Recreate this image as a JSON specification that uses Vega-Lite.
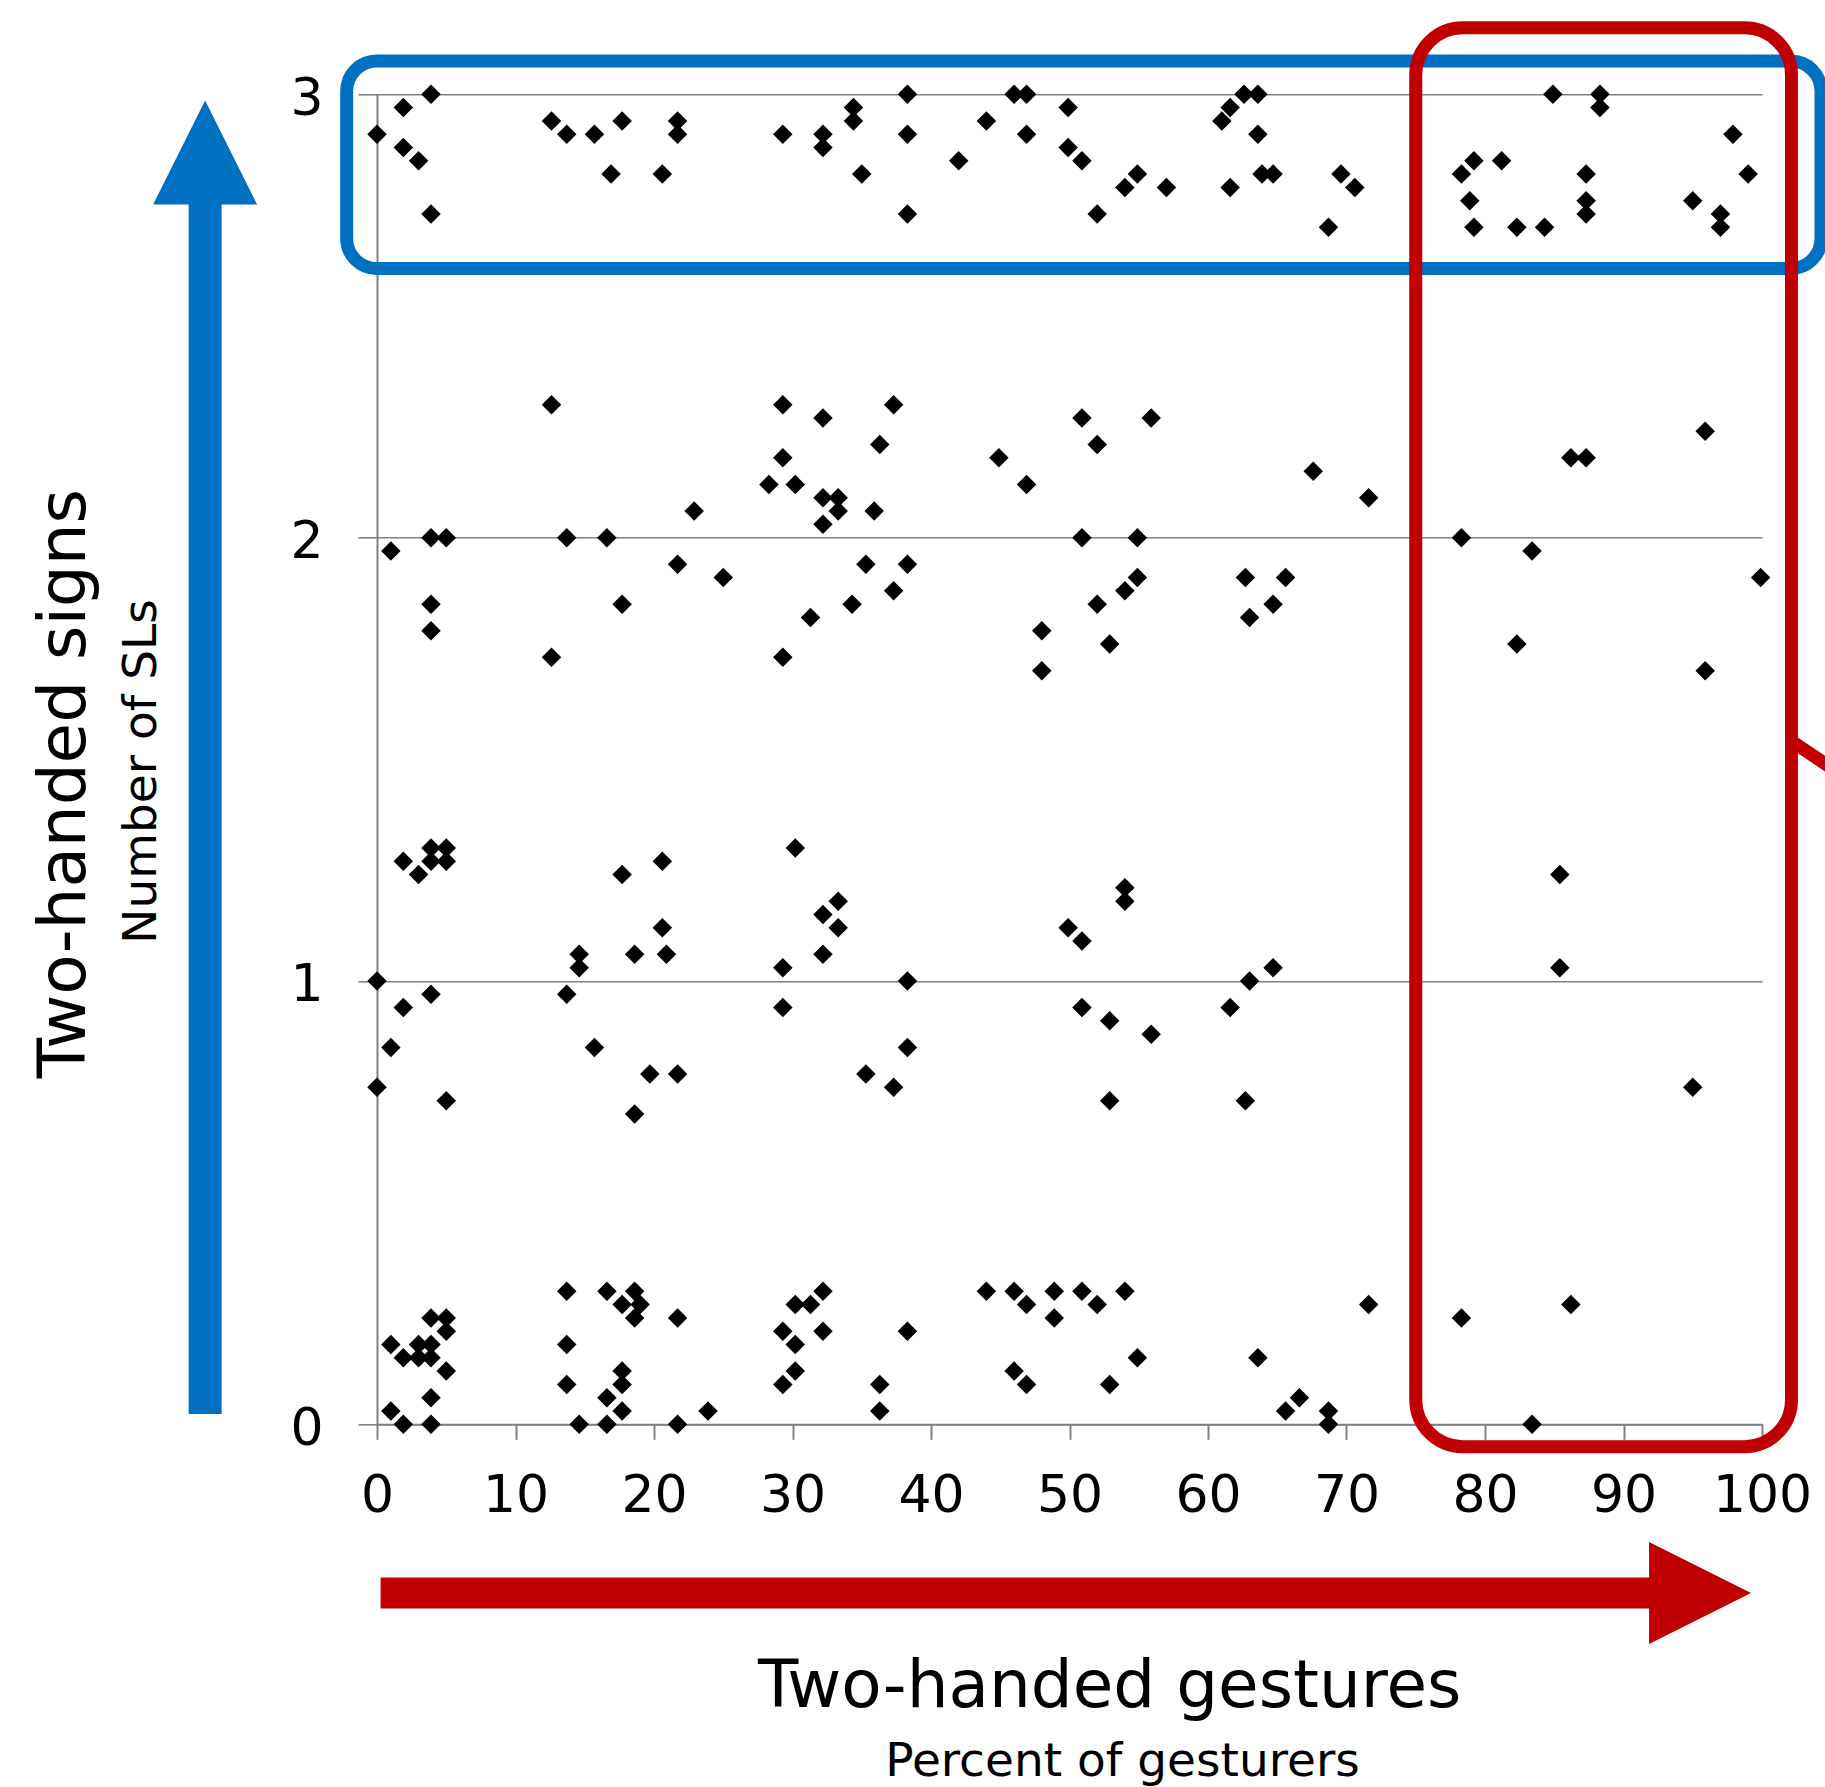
{
  "$schema": "https://vega.github.io/schema/vega-lite/v6.json",
  "width": 1385,
  "height": 1330,
  "autosize": {"type": "none"},
  "padding": {"left": 377, "top": 94.3, "right": 63, "bottom": 362.7},
  "background": "white",
  "config": {
    "view": {"stroke": null},
    "font": "DejaVu Sans"
  },
  "datasets": {
    "pts": [
      {"pct": 3.9, "n": 3.0}, {"pct": 1.9, "n": 2.97}, {"pct": 0, "n": 2.91}, {"pct": 1.9, "n": 2.88}, {"pct": 3.0, "n": 2.85}, {"pct": 3.9, "n": 2.73},
      {"pct": 12.6, "n": 2.94}, {"pct": 13.7, "n": 2.91}, {"pct": 15.7, "n": 2.91}, {"pct": 17.7, "n": 2.94}, {"pct": 21.7, "n": 2.94}, {"pct": 21.7, "n": 2.91}, {"pct": 16.9, "n": 2.82}, {"pct": 20.6, "n": 2.82},
      {"pct": 38.3, "n": 3.0}, {"pct": 46.0, "n": 3.0}, {"pct": 46.9, "n": 3.0}, {"pct": 34.4, "n": 2.97}, {"pct": 34.4, "n": 2.94}, {"pct": 29.3, "n": 2.91}, {"pct": 32.2, "n": 2.91}, {"pct": 32.2, "n": 2.88}, {"pct": 38.3, "n": 2.91}, {"pct": 44.0, "n": 2.94}, {"pct": 46.9, "n": 2.91}, {"pct": 49.9, "n": 2.97}, {"pct": 49.9, "n": 2.88}, {"pct": 35.0, "n": 2.82}, {"pct": 42.0, "n": 2.85}, {"pct": 38.3, "n": 2.73},
      {"pct": 50.9, "n": 2.85}, {"pct": 54.9, "n": 2.82}, {"pct": 54.0, "n": 2.79}, {"pct": 57.0, "n": 2.79}, {"pct": 52.0, "n": 2.73}, {"pct": 62.6, "n": 3.0}, {"pct": 63.6, "n": 3.0}, {"pct": 61.6, "n": 2.97}, {"pct": 61.0, "n": 2.94}, {"pct": 63.6, "n": 2.91}, {"pct": 63.9, "n": 2.82}, {"pct": 64.7, "n": 2.82}, {"pct": 61.6, "n": 2.79}, {"pct": 69.6, "n": 2.82}, {"pct": 70.6, "n": 2.79}, {"pct": 68.7, "n": 2.70},
      {"pct": 84.9, "n": 3.0}, {"pct": 88.3, "n": 3.0}, {"pct": 88.3, "n": 2.97}, {"pct": 97.9, "n": 2.91}, {"pct": 79.2, "n": 2.85}, {"pct": 81.2, "n": 2.85}, {"pct": 78.3, "n": 2.82}, {"pct": 87.3, "n": 2.82}, {"pct": 99.0, "n": 2.82}, {"pct": 78.9, "n": 2.76}, {"pct": 87.3, "n": 2.76}, {"pct": 87.3, "n": 2.73}, {"pct": 95.0, "n": 2.76}, {"pct": 97.0, "n": 2.73}, {"pct": 97.0, "n": 2.70}, {"pct": 79.2, "n": 2.70}, {"pct": 82.3, "n": 2.70}, {"pct": 84.3, "n": 2.70},
      {"pct": 12.6, "n": 2.30}, {"pct": 22.9, "n": 2.06},
      {"pct": 29.3, "n": 2.30}, {"pct": 32.2, "n": 2.27}, {"pct": 37.3, "n": 2.30}, {"pct": 36.3, "n": 2.21}, {"pct": 29.3, "n": 2.18}, {"pct": 44.9, "n": 2.18}, {"pct": 28.3, "n": 2.12}, {"pct": 30.2, "n": 2.12}, {"pct": 46.9, "n": 2.12}, {"pct": 32.2, "n": 2.09}, {"pct": 33.3, "n": 2.09}, {"pct": 33.3, "n": 2.06}, {"pct": 35.9, "n": 2.06}, {"pct": 32.2, "n": 2.03},
      {"pct": 50.9, "n": 2.27}, {"pct": 55.9, "n": 2.27}, {"pct": 52.0, "n": 2.21}, {"pct": 67.6, "n": 2.15}, {"pct": 71.6, "n": 2.09},
      {"pct": 95.9, "n": 2.24}, {"pct": 86.2, "n": 2.18}, {"pct": 87.3, "n": 2.18},
      {"pct": 1.0, "n": 1.97}, {"pct": 3.9, "n": 2.0}, {"pct": 5.0, "n": 2.0}, {"pct": 13.7, "n": 2.0}, {"pct": 16.6, "n": 2.0}, {"pct": 21.7, "n": 1.94}, {"pct": 3.9, "n": 1.85}, {"pct": 17.7, "n": 1.85}, {"pct": 3.9, "n": 1.79}, {"pct": 12.6, "n": 1.73},
      {"pct": 25.0, "n": 1.91}, {"pct": 35.3, "n": 1.94}, {"pct": 38.3, "n": 1.94}, {"pct": 37.3, "n": 1.88}, {"pct": 34.3, "n": 1.85}, {"pct": 31.3, "n": 1.82}, {"pct": 29.3, "n": 1.73}, {"pct": 48.0, "n": 1.79}, {"pct": 48.0, "n": 1.70},
      {"pct": 50.9, "n": 2.0}, {"pct": 54.9, "n": 2.0}, {"pct": 54.9, "n": 1.91}, {"pct": 54.0, "n": 1.88}, {"pct": 52.0, "n": 1.85}, {"pct": 52.9, "n": 1.76}, {"pct": 62.7, "n": 1.91}, {"pct": 65.6, "n": 1.91}, {"pct": 64.7, "n": 1.85}, {"pct": 63.0, "n": 1.82},
      {"pct": 78.3, "n": 2.0}, {"pct": 83.4, "n": 1.97}, {"pct": 99.9, "n": 1.91}, {"pct": 82.3, "n": 1.76}, {"pct": 95.9, "n": 1.70},
      {"pct": 3.9, "n": 1.30}, {"pct": 5.0, "n": 1.30}, {"pct": 3.9, "n": 1.27}, {"pct": 5.0, "n": 1.27}, {"pct": 1.9, "n": 1.27}, {"pct": 3.0, "n": 1.24}, {"pct": 17.7, "n": 1.24}, {"pct": 20.6, "n": 1.27}, {"pct": 20.6, "n": 1.12}, {"pct": 14.6, "n": 1.06}, {"pct": 14.6, "n": 1.03}, {"pct": 18.6, "n": 1.06}, {"pct": 20.9, "n": 1.06}, {"pct": 0, "n": 1.0},
      {"pct": 30.2, "n": 1.30}, {"pct": 33.3, "n": 1.18}, {"pct": 32.2, "n": 1.15}, {"pct": 33.3, "n": 1.12}, {"pct": 32.2, "n": 1.06}, {"pct": 29.3, "n": 1.03}, {"pct": 38.3, "n": 1.0}, {"pct": 49.9, "n": 1.12},
      {"pct": 54.0, "n": 1.21}, {"pct": 54.0, "n": 1.18}, {"pct": 50.9, "n": 1.09}, {"pct": 63.0, "n": 1.0}, {"pct": 64.7, "n": 1.03},
      {"pct": 85.4, "n": 1.24}, {"pct": 85.4, "n": 1.03},
      {"pct": 3.9, "n": 0.97}, {"pct": 1.9, "n": 0.94}, {"pct": 13.7, "n": 0.97}, {"pct": 1.0, "n": 0.85}, {"pct": 15.7, "n": 0.85}, {"pct": 0, "n": 0.76}, {"pct": 5.0, "n": 0.73}, {"pct": 19.7, "n": 0.79}, {"pct": 21.7, "n": 0.79}, {"pct": 18.6, "n": 0.70},
      {"pct": 29.3, "n": 0.94}, {"pct": 38.3, "n": 0.85}, {"pct": 35.3, "n": 0.79}, {"pct": 37.3, "n": 0.76},
      {"pct": 50.9, "n": 0.94}, {"pct": 52.9, "n": 0.91}, {"pct": 55.9, "n": 0.88}, {"pct": 61.6, "n": 0.94}, {"pct": 52.9, "n": 0.73}, {"pct": 62.7, "n": 0.73},
      {"pct": 95.0, "n": 0.76},
      {"pct": 13.7, "n": 0.30}, {"pct": 16.6, "n": 0.30}, {"pct": 18.6, "n": 0.30}, {"pct": 17.7, "n": 0.27}, {"pct": 19.0, "n": 0.27}, {"pct": 18.6, "n": 0.24}, {"pct": 21.7, "n": 0.24}, {"pct": 3.9, "n": 0.24}, {"pct": 5.0, "n": 0.24}, {"pct": 5.0, "n": 0.21}, {"pct": 1.0, "n": 0.18}, {"pct": 3.0, "n": 0.18}, {"pct": 3.9, "n": 0.18}, {"pct": 1.9, "n": 0.15}, {"pct": 3.0, "n": 0.15}, {"pct": 3.9, "n": 0.15}, {"pct": 5.0, "n": 0.12}, {"pct": 13.7, "n": 0.18}, {"pct": 17.7, "n": 0.12}, {"pct": 17.7, "n": 0.09}, {"pct": 13.7, "n": 0.09}, {"pct": 16.6, "n": 0.06}, {"pct": 3.9, "n": 0.06}, {"pct": 1.0, "n": 0.03}, {"pct": 17.7, "n": 0.03}, {"pct": 1.9, "n": 0.0}, {"pct": 3.9, "n": 0.0}, {"pct": 14.6, "n": 0.0}, {"pct": 16.6, "n": 0.0}, {"pct": 21.7, "n": 0.0}, {"pct": 23.9, "n": 0.03},
      {"pct": 32.2, "n": 0.30}, {"pct": 30.2, "n": 0.27}, {"pct": 31.3, "n": 0.27}, {"pct": 29.3, "n": 0.21}, {"pct": 32.2, "n": 0.21}, {"pct": 30.2, "n": 0.18}, {"pct": 30.2, "n": 0.12}, {"pct": 29.3, "n": 0.09}, {"pct": 38.3, "n": 0.21}, {"pct": 36.3, "n": 0.09}, {"pct": 36.3, "n": 0.03},
      {"pct": 44.0, "n": 0.30}, {"pct": 46.0, "n": 0.30}, {"pct": 46.9, "n": 0.27}, {"pct": 48.9, "n": 0.30}, {"pct": 48.9, "n": 0.24}, {"pct": 46.0, "n": 0.12}, {"pct": 46.9, "n": 0.09},
      {"pct": 50.9, "n": 0.30}, {"pct": 52.0, "n": 0.27}, {"pct": 54.0, "n": 0.30}, {"pct": 71.6, "n": 0.27}, {"pct": 54.9, "n": 0.15}, {"pct": 52.9, "n": 0.09}, {"pct": 63.6, "n": 0.15}, {"pct": 66.6, "n": 0.06}, {"pct": 65.6, "n": 0.03}, {"pct": 68.7, "n": 0.03}, {"pct": 68.7, "n": 0.0},
      {"pct": 78.3, "n": 0.24}, {"pct": 86.2, "n": 0.27}, {"pct": 83.4, "n": 0.0}
    ]
  },
  "encoding": {
    "x": {
      "type": "quantitative",
      "scale": {"domain": [0, 100], "nice": false, "zero": false},
      "axis": {
        "values": [0, 10, 20, 30, 40, 50, 60, 70, 80, 90, 100],
        "grid": false,
        "domainColor": "#808080", "domainWidth": 2,
        "tickColor": "#808080", "tickWidth": 2, "tickSize": 15,
        "labelFont": "DejaVu Sans", "labelFontSize": 52, "labelColor": "#000000", "labelPadding": 31,
        "labelFlush": false, "labelOverlap": false, "labelBound": false,
        "title": "Percent of gesturers",
        "titleFont": "DejaVu Sans", "titleFontSize": 47, "titleFontWeight": "normal", "titleColor": "#000000",
        "titleX": 745, "titleY": 350.7, "titleAlign": "center", "titleBaseline": "alphabetic"
      }
    },
    "y": {
      "type": "quantitative",
      "scale": {"domain": [0, 3], "nice": false, "zero": false},
      "axis": {
        "values": [0, 1, 2, 3],
        "grid": true, "gridColor": "#808080", "gridWidth": 1.6,
        "domainColor": "#808080", "domainWidth": 2,
        "tickColor": "#808080", "tickWidth": 1.6, "tickSize": 19,
        "labelFont": "DejaVu Sans", "labelFontSize": 52, "labelColor": "#000000", "labelPadding": 35, "labelOffset": 4,
        "labelFlush": false, "labelOverlap": false, "labelBound": false,
        "title": "Number of SLs",
        "titleFont": "DejaVu Sans", "titleFontSize": 47, "titleFontWeight": "normal", "titleColor": "#000000",
        "titleAngle": 270, "titleX": -222, "titleY": 676.7, "titleAlign": "center", "titleBaseline": "alphabetic"
      }
    }
  },
  "layer": [
    {
      "data": {"name": "pts"},
      "mark": {"type": "point", "shape": "diamond", "filled": true, "color": "#000000", "size": 380, "opacity": 1, "strokeWidth": 0},
      "encoding": {
        "x": {"field": "pct", "type": "quantitative"},
        "y": {"field": "n", "type": "quantitative"}
      }
    },
    {
      "data": {"values": [{}]},
      "mark": {"type": "rect", "filled": false, "stroke": "#0070C0", "strokeWidth": 13, "cornerRadius": 30, "clip": false},
      "encoding": {
        "x": {"datum": -2.19}, "x2": {"datum": 104.26},
        "y": {"datum": 3.075}, "y2": {"datum": 2.607}
      }
    },
    {
      "data": {"values": [{}]},
      "mark": {"type": "rect", "filled": false, "stroke": "#C00000", "strokeWidth": 13, "cornerRadius": 47, "clip": false},
      "encoding": {
        "x": {"datum": 75.0}, "x2": {"datum": 102.13},
        "y": {"datum": 3.15}, "y2": {"datum": -0.0505}
      }
    },
    {
      "data": {"values": [{}]},
      "mark": {"type": "rule", "color": "#C00000", "strokeWidth": 13, "clip": false},
      "encoding": {
        "x": {"datum": 102.13}, "x2": {"datum": 109.9},
        "y": {"datum": 1.541}, "y2": {"datum": 1.378}
      }
    },
    {
      "data": {"values": [{}]},
      "mark": {"type": "rule", "color": "#0070C0", "strokeWidth": 33, "strokeCap": "butt", "clip": false},
      "encoding": {
        "x": {"datum": -12.41},
        "y": {"datum": 0.023}, "y2": {"datum": 2.76}
      }
    },
    {
      "data": {"values": [{}]},
      "mark": {"type": "point", "shape": "M0,-1L1,1L-1,1Z", "size": 10816, "filled": true, "color": "#0070C0", "opacity": 1, "strokeWidth": 0, "clip": false},
      "encoding": {
        "x": {"datum": -12.41},
        "y": {"datum": 2.869}
      }
    },
    {
      "data": {"values": [{}]},
      "mark": {"type": "rule", "color": "#C00000", "strokeWidth": 31, "strokeCap": "butt", "clip": false},
      "encoding": {
        "x": {"datum": 0.26}, "x2": {"datum": 92.2},
        "y": {"datum": -0.3806}
      }
    },
    {
      "data": {"values": [{}]},
      "mark": {"type": "point", "shape": "M1,0L-1,-1L-1,1Z", "size": 10404, "filled": true, "color": "#C00000", "opacity": 1, "strokeWidth": 0, "clip": false},
      "encoding": {
        "x": {"datum": 95.53},
        "y": {"datum": -0.3806}
      }
    },
    {
      "data": {"values": [{}]},
      "mark": {"type": "text", "text": "Two-handed signs", "font": "DejaVu Sans", "fontSize": 66, "color": "#000000", "angle": 270, "align": "center", "baseline": "alphabetic", "clip": false},
      "encoding": {
        "x": {"datum": -21.1},
        "y": {"datum": 1.445}
      }
    },
    {
      "data": {"values": [{}]},
      "mark": {"type": "text", "text": "Two-handed gestures", "font": "DejaVu Sans", "fontSize": 66, "color": "#000000", "align": "center", "baseline": "alphabetic", "clip": false},
      "encoding": {
        "x": {"datum": 52.9},
        "y": {"datum": -0.638}
      }
    }
  ]
}
